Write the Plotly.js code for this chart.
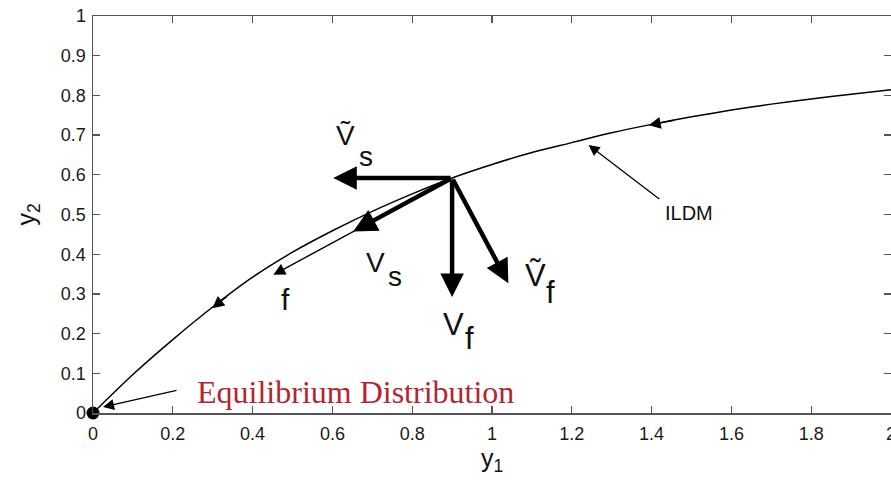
<!DOCTYPE html>
<html>
<head>
<meta charset="utf-8">
<script src="https://cdn.plot.ly/plotly-3.0.1.min.js"></script>
<style>
  html, body { margin: 0; padding: 0; background: #fff; overflow: hidden; }
  #chart { width: 891px; height: 487px; }
</style>
</head>
<body>
<div id="chart"></div>
<script>
// ILDM curve, y2 as a function of y1
const ildmY1 = [0, 0.1, 0.2, 0.3, 0.4, 0.5, 0.6, 0.7, 0.8, 0.9, 1.0, 1.1, 1.2, 1.3, 1.4, 1.5, 1.6, 1.7, 1.8, 1.9, 2.0];
const ildmY2 = [0, 0.097, 0.185, 0.267, 0.342, 0.405, 0.459, 0.508, 0.552, 0.592, 0.626, 0.656, 0.681, 0.706, 0.727, 0.746, 0.763, 0.778, 0.791, 0.803, 0.814];

// Base point of the vector diagram (on the manifold)
const baseY1 = 0.9;
const baseY2 = 0.592;

// Vector tips: Ṽs, Vs, Vf, Ṽf
const vecMain = ['Ṽ', 'V', 'V', 'Ṽ'];
const vecSub = ['s', 's', 'f', 'f'];
const vecTipY1 = [0.602, 0.652, 0.9, 1.041];
const vecTipY2 = [0.592, 0.457, 0.292, 0.327];

// Fast direction "f" line end point
const fastTipY1 = 0.452;
const fastTipY2 = 0.348;

// Flow direction arrowheads on the manifold (tip / tail)
const flowTipY1 = [0.299, 1.393];
const flowTipY2 = [0.264, 0.725];
const flowTailY1 = [0.34, 1.46];
const flowTailY2 = [0.297, 0.738];

// Equilibrium point
const eqY1 = [0];
const eqY2 = [0];

const SANS = 'Liberation Sans, Arial, Helvetica, sans-serif';
const SERIF = 'Liberation Serif, Times New Roman, serif';

function arrow(x, y, ax, ay, width, size, head) {
  return {
    x: x, y: y, ax: ax, ay: ay,
    xref: 'x', yref: 'y', axref: 'x', ayref: 'y',
    text: '', showarrow: true,
    arrowhead: head, arrowsize: size, arrowwidth: width,
    arrowcolor: '#000'
  };
}

function label(x, y, text, size, opts) {
  return Object.assign({
    x: x, y: y, xref: 'x', yref: 'y',
    text: text, showarrow: false,
    xanchor: 'center', yanchor: 'middle',
    font: { family: SANS, size: size, color: '#111' }
  }, opts || {});
}

const annotations = [];

// thin "f" line along the fast direction
annotations.push(arrow(fastTipY1, fastTipY2, baseY1, baseY2, 1.4, 1.7, 2));

// thick vectors from the base point
for (let i = 0; i < vecTipY1.length; i++) {
  annotations.push(arrow(vecTipY1[i], vecTipY2[i], baseY1, baseY2, 4.5, 1.05, 2));
}

// flow arrowheads on the curve
for (let i = 0; i < flowTipY1.length; i++) {
  annotations.push(arrow(flowTipY1[i], flowTipY2[i], flowTailY1[i], flowTailY2[i], 1.4, 1.7, 2));
}

// pointer to the manifold
annotations.push(arrow(1.242, 0.675, 1.423, 0.536, 1.3, 1.7, 2));
// pointer to the equilibrium
annotations.push(arrow(0.025, 0.015, 0.213, 0.058, 1.3, 1.7, 2));

// vector labels
const mainPos = [[0.634, 0.700], [0.709, 0.380], [0.903, 0.222], [1.109, 0.347]];
const subPos = [[0.684, 0.645], [0.757, 0.344], [0.944, 0.188], [1.146, 0.304]];
const mainSize = [28, 28, 31, 31];
for (let i = 0; i < vecMain.length; i++) {
  annotations.push(label(mainPos[i][0], mainPos[i][1], vecMain[i], mainSize[i]));
  annotations.push(label(subPos[i][0], subPos[i][1], vecSub[i], mainSize[i]));
}
annotations.push(label(0.482, 0.287, 'f', 30));
annotations.push(label(1.493, 0.503, 'ILDM', 20));
annotations.push(label(0.657, 0.052, 'Equilibrium Distribution', 32,
  { font: { family: SERIF, size: 32, color: '#b3262e' } }));

const traces = [
  {
    x: ildmY1, y: ildmY2, type: 'scatter', mode: 'lines',
    line: { color: '#000', width: 1.5, shape: 'spline', smoothing: 0.8 },
    hoverinfo: 'skip', showlegend: false
  },
  {
    x: eqY1, y: eqY2, type: 'scatter', mode: 'markers',
    marker: { color: '#000', size: 13 },
    cliponaxis: false, hoverinfo: 'skip', showlegend: false
  }
];

const axisCommon = {
  showgrid: false, zeroline: false,
  showline: true, linecolor: '#555', linewidth: 1.5,
  mirror: 'ticks', ticks: 'inside', ticklen: 7, tickwidth: 1.3, tickcolor: '#555',
  ticklabeloverflow: 'allow',
  tickfont: { family: SANS, size: 18, color: '#1a1a1a' }
};

const layout = {
  width: 891, height: 487,
  margin: { l: 93, r: 0, t: 16, b: 74 },
  paper_bgcolor: '#fff', plot_bgcolor: '#fff',
  showlegend: false,
  xaxis: Object.assign({}, axisCommon, {
    range: [0, 2], dtick: 0.2, tick0: 0,
    ticklabelstandoff: 4,
    title: { text: 'y<sub>1</sub>', font: { family: SANS, size: 25, color: '#111' }, standoff: 6 }
  }),
  yaxis: Object.assign({}, axisCommon, {
    range: [0, 1], dtick: 0.1, tick0: 0,
    ticklabelstandoff: 2,
    title: { text: 'y<sub>2</sub>', font: { family: SANS, size: 25, color: '#111' }, standoff: 18 }
  }),
  annotations: annotations
};

Plotly.newPlot('chart', traces, layout, { staticPlot: true, displayModeBar: false });
</script>
</body>
</html>
